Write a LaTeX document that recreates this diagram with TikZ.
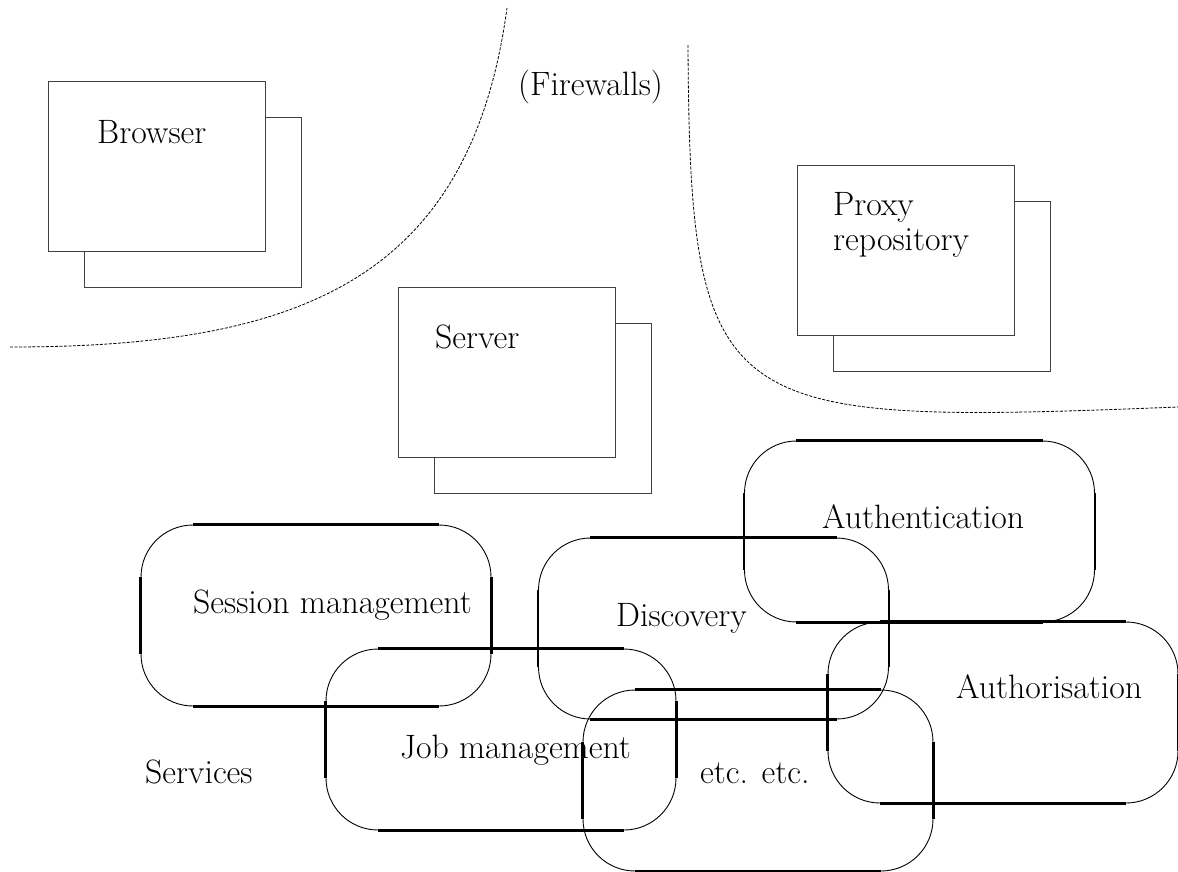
\documentclass[tikz,border=0pt]{standalone}
\begin{document}
\begin{tikzpicture}[x=1pt,y=-1pt]
\tikzset{
 win/.style={draw=black!75, line width=1pt, fill=white, minimum width=217pt, minimum height=170pt, inner sep=0pt},
 svc/.style={draw, line width=0.9pt, rounded corners=52pt, minimum width=350pt, minimum height=181pt, inner sep=0pt},
 seg/.style={line width=2.3pt},
 lbl/.style={anchor=base west, inner sep=0pt, font=\fontsize{33.8}{40}\selectfont},
 fw/.style={line width=0.8pt, dash pattern=on 3pt off 1.5pt}
}
\useasboundingbox (0,0) rectangle (1178,871);
% firewalls
\coordinate (f1a) at (10,347); \coordinate (f1b) at (507,8);
\draw[fw] (f1a) .. controls (300,347) and (470,280) .. (f1b);
\coordinate (f2a) at (688,45); \coordinate (f2b) at (1178,407);
\draw[fw] (f2a) .. controls (690,420) and (720,425) .. (f2b);
% windows
\node[win] (browserB) at (192.5,202) {};
\node[win] (browser) at (156.5,166) {};
\node[win] (serverB) at (542.5,408) {};
\node[win] (server) at (506.5,372) {};
\node[win] (proxyB) at (941.5,286.5) {};
\node[win] (proxy) at (905.5,250.5) {};
% services
\node[svc] (sess) at (316,615.5) {};
\node[svc] (job) at (501,739.5) {};
\node[svc] (disc) at (713.5,628.5) {};
\node[svc] (authn) at (919.5,531.5) {};
\node[svc] (authz) at (1003,712.5) {};
\node[svc] (etcb) at (758,780.5) {};
\foreach \n in {sess,job,disc,authn,authz,etcb}{
 \draw[seg] ([xshift=52pt]\n.north west) -- ([xshift=-52pt]\n.north east);
 \draw[seg] ([xshift=52pt]\n.south west) -- ([xshift=-52pt]\n.south east);
 \draw[seg] ([yshift=-52pt]\n.north west) -- ([yshift=52pt]\n.south west);
 \draw[seg] ([yshift=-52pt]\n.north east) -- ([yshift=52pt]\n.south east);
}
% labels
\node[lbl] (browserT) at (97,143) {Browser};
\node[lbl] (fwT) at (518,95) {(Firewalls)};
\node[lbl] (serverT) at (435,348) {Server};
\node[lbl] (proxyT) at (833,215) {Proxy};
\node[lbl] (repoT) at (833,250) {repository};
\node[lbl] (sessT) at (193,613) {Session management};
\node[lbl] (jobT) at (400,758) {Job management};
\node[lbl] (servT) at (145,783) {Services};
\node[lbl] (discT) at (616,626) {Discovery};
\node[lbl] (authnT) at (822,528) {Authentication};
\node[lbl] (authzT) at (956,698) {Authorisation};
\node[lbl] (etcT) at (700,783) {etc. etc.};
\end{tikzpicture}
\end{document}
